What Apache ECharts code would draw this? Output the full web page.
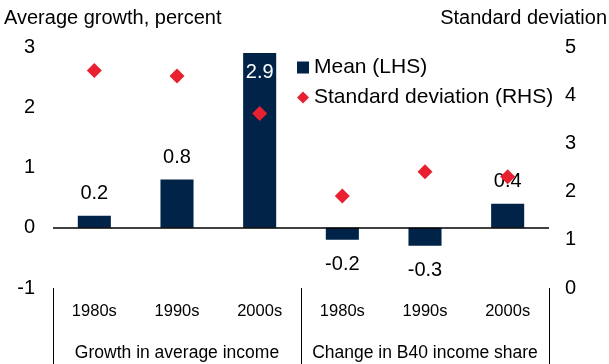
<!DOCTYPE html>
<html>
<head>
<meta charset="utf-8">
<script src="https://cdn.jsdelivr.net/npm/echarts@6/dist/echarts.min.js"></script>
<style>
  html, body { margin: 0; padding: 0; background: #fff; }
  #chart { width: 609px; height: 364px; }
</style>
</head>
<body>
<div id="chart"></div>
<script>
// Decades shown within each group
const categories = ['1980s', '1990s', '2000s', '1980s', '1990s', '2000s'];
// Group labels under the decades
const groups = ['Growth in average income', 'Change in B40 income share'];
// Mean (left axis, percent)
const meanValues = [0.2, 0.8, 2.9, -0.2, -0.3, 0.4];
// Standard deviation (right axis)
const sdValues = [4.51, 4.40, 3.62, 1.91, 2.41, 2.31];
// Axis ticks
const leftTicks = [-1, 0, 1, 2, 3];
const rightTicks = [0, 1, 2, 3, 4, 5];

const FONT = 'Liberation Sans, Arial, sans-serif';
const NAVY = '#002347';
const RED = '#e8202f';

const chart = echarts.init(document.getElementById('chart'), null, { renderer: 'canvas' });

// Bar labels: white inside the tall bar, above positive bars, below negative ones
const barData = meanValues.map(function (v) {
  const item = { value: v, label: { show: true } };
  if (v >= 2) {
    item.label.position = 'insideTop';
    item.label.color = '#ffffff';
    item.label.distance = 9;
  } else if (v < 0) {
    item.label.position = 'bottom';
    item.label.distance = 15;
  } else {
    item.label.position = 'top';
    item.label.distance = 12;
  }
  return item;
});

chart.setOption({
  animation: false,
  textStyle: { fontFamily: FONT },
  graphic: [
    { type: 'text', left: 4, top: 8,
      style: { text: 'Average growth, percent', fontSize: 20, fontFamily: FONT, fill: '#000' } },
    { type: 'text', right: 2, top: 8,
      style: { text: 'Standard deviation', fontSize: 20, fontFamily: FONT, fill: '#000' } }
  ],
  legend: {
    orient: 'vertical',
    left: 292, top: 52,
    itemWidth: 12, itemHeight: 12, itemGap: 9,
    textStyle: { fontSize: 21, color: '#000', fontFamily: FONT },
    data: [
      { name: 'Mean (LHS)', icon: 'rect' },
      { name: 'Standard deviation (RHS)', icon: 'diamond' }
    ]
  },
  grid: { left: 53, right: 60, top: 47, bottom: 76 },
  xAxis: [
    {
      type: 'category', data: categories, position: 'bottom',
      axisLine: { show: false }, axisTick: { show: false },
      axisLabel: { fontSize: 16.5, color: '#000', margin: 15, interval: 0 }
    },
    {
      type: 'category', data: groups, position: 'bottom',
      axisLine: { show: false },
      axisTick: { show: true, length: 76, lineStyle: { color: '#000', width: 1 } },
      axisLabel: { fontSize: 17.5, color: '#000', margin: 56, interval: 0 }
    }
  ],
  yAxis: [
    {
      type: 'value', min: leftTicks[0], max: leftTicks[leftTicks.length - 1], interval: 1,
      axisLine: { show: false }, axisTick: { show: false }, splitLine: { show: false },
      axisLabel: { fontSize: 20, color: '#000', margin: 18 }
    },
    {
      type: 'value', min: rightTicks[0], max: rightTicks[rightTicks.length - 1], interval: 1,
      position: 'right',
      axisLine: { show: false }, axisTick: { show: false }, splitLine: { show: false },
      axisLabel: { fontSize: 20, color: '#000', margin: 16 }
    }
  ],
  series: [
    {
      name: 'Mean (LHS)', type: 'bar', xAxisIndex: 0, yAxisIndex: 0,
      data: barData, barWidth: '40%',
      itemStyle: { color: NAVY },
      label: { fontSize: 20, color: '#000', fontFamily: FONT },
      markLine: {
        silent: true, symbol: 'none', label: { show: false },
        lineStyle: { color: '#000', width: 1.5, type: 'solid' },
        data: [{ yAxis: 0 }]
      },
      z: 2
    },
    {
      name: 'Standard deviation (RHS)', type: 'scatter', xAxisIndex: 0, yAxisIndex: 1,
      data: sdValues, symbol: 'diamond', symbolSize: 15,
      itemStyle: { color: RED, opacity: 1 },
      z: 3
    }
  ]
});
</script>
</body>
</html>
